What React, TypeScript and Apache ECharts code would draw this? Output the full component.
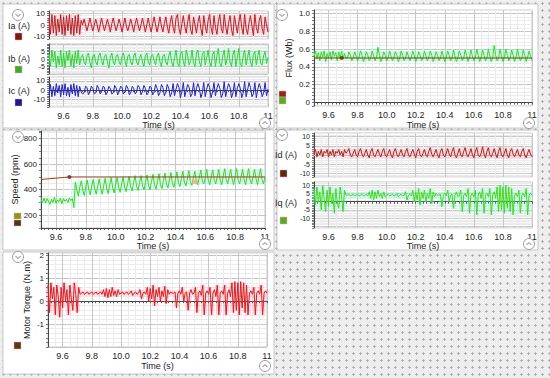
import React, { useEffect, useRef } from 'react';
import * as echarts from 'echarts';

// time base of the sampled traces (s)
const T0 = 9.5;
const DT = 0.01;

const timeLabels = [9.6, 9.8, 10.0, 10.2, 10.4, 10.6, 10.8, 11];

const ia = [
  6, -8, 9, -7, 8, -9, 5, -6, 9, -8, 7, -9, 8, -5, 9, -8, 6, -9, 8, -7, 9, -8, 4,
  0, 5, 0, -5, 0, 6, 0, -5, 0, 5, 0, -6, 0, 6, 0, -5, 0, 5, 0, -6, 1, 6, 0, -5, 0, 5, 0, -6, 0, 6, -1, -5,
  0, 5, 0, -6, 1, 6, 0, -5, 0, 6, 0, -6, 0, 6, -1, -6, 1, 7, 0, -6, 0, 7, -1, -6, 1, 7,
  -1, -7, 2, 8, -2, -7, 6, 9, -3, -8, 1, 8, -1, -7, 3, 9, -4, -8, 7, 0, -7, 2, 8, -3, -9, 8, -1, -7,
  4, 9, -2, -8, 8, -2, -8, 3, 9, -3, -7, 9, -1, -8, 2, 8, -4, -9, 8, 0, -7, 3, 9, -2, -8, 9, -3, -8,
  2, 8, -1, -9, 9, -2, -7, 4, 8, -3, -8, 7, 0, -6,
];

const ib = [
  3, -5, 6, -2, 5, -6, 2, -4, 6, -5, 4, -6, 5, -1, 6, -5, 3, -6, 5, -3, 6, -4, 1,
  3, -2, -4, 2, 4, -2, -6, 2, 3, -2, -4, 2, 4, -1, -4, 2, 3, -2, -6, 1, 4, -2, -4, 2, 3, -2, -4, 2,
  4, -1, -5, 2, 3, -2, -4, 2, 4, -2, -4, 1, 3, -2, -5, 2, 4, -2, -4, 2, 3, -1, -4, 2, 4, -2, -5, 2, 3, -2,
  -4, 2, 5, -2, -5, 1, 6, -3, -5, 3, 5, -2, -5, 6, 2, -4, -1, 6, -3, -5, 4, 6, -2, -5, 3, 5, -4, 1,
  6, -2, -5, 3, 5, -5, 2, 7, -3, -5, 2, 6, -4, 0, 7, -2, -5, 3, 6, -5, 1, 7, -3, -5, 2, 6, -4, 1,
  6, -2, -5, 3, 5, -4, 2, 6, -3, -4, 2, 5, -3, 1,
];

const ic = [
  -5, 6, -7, 4, -6, 7, -3, 5, -7, 6, -5, 7, -6, 3, -7, 6, -4, 7, -6, 5, -7, 4, -2,
  -4, -3, 4, 3, -5, -2, 4, 2, -4, -3, 5, 2, -4, -2, 4, 3, -5, -2, 4, 2, -4, -3, 5, 2, -5, -2, 4, 3,
  -4, -2, 5, 2, -5, -3, 4, 2, -4, -2, 5, 3, -5, -2, 5, 2, -5, -3, 4, 3, -5, -2, 6, 2, -6, -3, 6, 3, -6, -2,
  6, 2, -7, -3, 7, -6, 1, 7, 3, -8, -2, 8, -7, 0, 6, 3, -7, -4, 8, -6, 2, 7, 2, -8, -3, 8, -7, 1,
  7, 3, -8, -2, 8, -6, 2, 7, 2, -8, -4, 9, -7, 1, 7, 3, -8, -3, 8, -7, 2, 7, 2, -8, -3, 9, -7, 0,
  8, 3, -7, -4, 8, -8, 1, 7, 2, -7, -3, 8, -6, 1,
];

const flux = [
  0.52, 0.58, 0.49, 0.56, 0.47, 0.57, 0.51, 0.58, 0.46, 0.55, 0.5, 0.57, 0.48, 0.58, 0.52, 0.56, 0.47, 0.57, 0.5, 0.58, 0.49, 0.55, 0.5,
  0.5, 0.57, 0.53, 0.47, 0.5, 0.57, 0.52, 0.47, 0.51, 0.58, 0.53, 0.46, 0.5, 0.57, 0.53, 0.47,
  0.5, 0.58, 0.52, 0.47, 0.51, 0.62, 0.53, 0.46, 0.5, 0.57, 0.53, 0.47, 0.5, 0.58, 0.52, 0.47,
  0.51, 0.57, 0.53, 0.46, 0.5, 0.58, 0.53, 0.47, 0.5, 0.57, 0.52, 0.47, 0.51, 0.58, 0.53, 0.46,
  0.5, 0.57, 0.53, 0.47, 0.5, 0.58, 0.52, 0.47, 0.51, 0.58, 0.53, 0.46, 0.5, 0.57, 0.53, 0.47,
  0.5, 0.58, 0.52, 0.46, 0.51, 0.58, 0.53, 0.47, 0.5, 0.59, 0.52, 0.46, 0.51, 0.58, 0.53, 0.47,
  0.5, 0.59, 0.53, 0.46, 0.51, 0.59, 0.52, 0.47, 0.5, 0.6, 0.53, 0.46, 0.51, 0.59, 0.53, 0.47,
  0.5, 0.6, 0.52, 0.46, 0.51, 0.64, 0.53, 0.47, 0.5, 0.6, 0.52, 0.46, 0.51, 0.6, 0.53, 0.47,
  0.5, 0.59, 0.53, 0.46, 0.51, 0.6, 0.52, 0.47, 0.5, 0.59, 0.53, 0.46, 0.51, 0.58, 0.52, 0.47,
];
const fluxRefT = [9.5, 11];
const fluxRefV = [0.5, 0.5];
const cursorT = [9.69];
const cursorFlux = [0.5];

const speed = [
  320, 300, 335, 295, 330, 310, 285, 325, 300, 340, 295, 320, 305, 335, 290, 330, 310, 325, 300, 335, 315, 330, 260,
  460, 400, 350, 420, 470, 395, 355, 425, 475, 400, 360, 430, 480, 405, 365, 430,
  485, 410, 365, 435, 490, 410, 370, 440, 495, 415, 375, 445, 495, 420, 380, 445,
  500, 420, 385, 450, 505, 425, 390, 455, 510, 430, 395, 455, 510, 430, 400, 460,
  515, 435, 400, 465, 520, 440, 405, 465, 525, 440, 410, 470, 530, 445, 415, 475,
  535, 450, 420, 480, 540, 455, 425, 485, 545, 460, 430, 485, 550, 465, 435, 490,
  545, 470, 440, 495, 555, 470, 445, 495, 560, 475, 440, 500, 555, 480, 445, 500,
  560, 475, 440, 505, 565, 480, 445, 500, 560, 485, 440, 505, 565, 480, 445, 500,
  560, 485, 440, 505, 565, 480, 445, 500, 560, 485, 440, 505, 565, 480, 445, 500,
];
const speedRefT = [9.5, 9.69, 11];
const speedRefV = [480, 500, 500];
const cursorSpeed = [500];
const markerT = [10.53];
const markerSpeed = [462];

const id = [
  1, 3, -1, 2, 0, 3, -1, 2, 1, 3, -1, 2, 0, 3, -1, 2, 1, 3, 0, 2, -1, 3, 1,
  2, 3.5, 0, -1, 1, 3, 0, -1, 2, 3.5, 0.5, -1, 1, 3, 0, -1.5,
  2, 3.5, 0, -1, 1, 3, 0.5, -1, 2, 3.5, 0, -1, 1, 3, 0, -1.5,
  2, 3.5, 0.5, -1, 1, 3, 0, -1, 2, 3.5, 0, -1, 1, 3, 0.5, -1.5,
  2, 3.5, 0, -1, 1, 3, 0, -1, 2, 4, 0.5, -1, 1, 3, 0, -1.5,
  2, 3.5, 0, -1, 1, 3.5, 0.5, -1, 2, 4, 0, -1.5, 1, 3.5, 0, -1,
  2, 4, 0.5, -1, 1, 3.5, 0, -1.5, 2, 4, 0, -1, 1, 4.5, 0.5, -1.5,
  2, 4, 0, -1, 1, 3.5, 0.5, -1.5, 2, 4, 0, -1, 1, 3.5, 0, -1.5,
  2, 3.5, 0.5, -1, 1, 3, 0, -1, 2, 3.5, 0, -1.5, 1, 3, 0.5, -1,
];

const iq = [
  8, -2, 9, 0, 6, -5, 10, 2, -6, 7, -3, 9, -1, 5, -7, 8, 0, -4, 9, 3, -6, 7, 4,
  4, 4.5, 3.5, 4, 4.5, 3.5, 4, 4.5, 3.5, 4, 4.5, 3.5, 4, 4.5, 3.5,
  6, 2, 7, 1, 6, 2, 7, 3, 5, 2, 6, 3,
  4, 4.5, 3.5, 4, 4.5, 3.5, 4, 5, 3, 4, 4.5, 3.5, 4, 6, 1, 4, 4.5, 3.5,
  7, 0, 6, 1, 8, -2, 6, 2, 7, 0, 5, 2, 8, -1, 6, 3, 5, 4,
  4, 4.5, -3, 4, 5, 3.5, 7, 0, 4, 4.5, -4, 4, 6, 3, 4,
  7, -6, 4, 5, 3, 8, -7, 4, 5, 3,
  7, -8, 4, 6, 2, 8, -7, 4, 5, 3,
  8, -8, 4, 6, 2, 9, -6, 10, -5, 9,
  -7, 10, -4, 9, -6, 8, -8, 4, 5, 3,
  7, -7, 4, 5, 3, 8, -8, 4, 5, 4,
];

const torque = [
  0.7, -0.5, 0.8, 0.1, 0.6, -0.6, 0.7, 0.2, -0.7, 0.6, -0.3, 0.8, 0, 0.5, -0.6, 0.7, 0.1, -0.4, 0.8, 0.3, -0.5, 0.6, 0.3,
  0.35, 0.4, 0.3, 0.35, 0.4, 0.3, 0.35, 0.4, 0.3, 0.35, 0.4, 0.3, 0.35, 0.4, 0.3,
  0.5, 0.2, 0.55, 0.15, 0.5, 0.2, 0.6, 0.25, 0.45, 0.2, 0.5, 0.3,
  0.35, 0.4, 0.3, 0.35, 0.4, 0.3, 0.35, 0.45, 0.25, 0.35, 0.4, 0.3, 0.35, 0.5, 0.1, 0.35, 0.4, 0.3,
  0.6, 0.0, 0.55, 0.1, 0.7, -0.2, 0.5, 0.2, 0.6, 0, 0.45, 0.2, 0.65, -0.1, 0.5, 0.3, 0.4, 0.35,
  0.35, 0.4, -0.3, 0.35, 0.45, 0.3, 0.6, 0, 0.35, 0.4, -0.4, 0.35, 0.5, 0.3, 0.35,
  0.6, -0.5, 0.35, 0.45, 0.25, 0.7, -0.6, 0.35, 0.45, 0.3,
  0.6, -0.6, 0.35, 0.5, 0.2, 0.7, -0.6, 0.35, 0.45, 0.3,
  0.7, -0.6, 0.35, 0.5, 0.2, 0.8, -0.5, 0.85, -0.4, 0.8,
  -0.6, 0.85, -0.3, 0.8, -0.5, 0.7, -0.6, 0.35, 0.45, 0.3,
  0.6, -0.6, 0.35, 0.45, 0.3, 0.7, -0.6, 0.35, 0.45, 0.35,
];

const MAJOR = '#c6c6c6';
const MINOR = '#ebebeb';
const FONT = 'Arial, "Liberation Sans", sans-serif';

const pts = (arr: number[]) => arr.map((v, i) => [Math.round((T0 + i * DT) * 100) / 100, v]);
const pairs = (t: number[], v: number[]) => t.map((x, i) => [x, v[i]]);

function xAx(gridIndex: number, bottom: boolean, nameGap = 13) {
  return {
    type: 'value', gridIndex, min: 9.5, max: 11, interval: 0.05,
    axisLine: { show: true, lineStyle: { color: bottom ? '#444' : '#bdbdbd' } },
    axisTick: { show: bottom, length: 2, lineStyle: { color: '#555' } },
    minorTick: { show: bottom, splitNumber: 2, length: 2, lineStyle: { color: '#555' } },
    axisLabel: {
      show: bottom, margin: 4, fontSize: 9, color: '#222', fontFamily: FONT,
      formatter: (v: number) => {
        const hit = timeLabels.find((l) => Math.abs(l - v) < 1e-6);
        if (hit === undefined) return '';
        return hit === 11 ? '11' : hit.toFixed(1);
      },
    },
    splitLine: { show: true, lineStyle: { color: [MINOR, MINOR, MAJOR, MINOR], width: 1 } },
    name: bottom ? 'Time (s)' : '', nameLocation: 'middle', nameGap,
    nameTextStyle: { fontSize: 9, color: '#222', fontFamily: FONT },
  };
}

function yAx(gridIndex: number, min: number, max: number, interval: number, period: number, majorAt: number,
  labels: number[], fmt: (v: number) => string, fontSize = 8, name = '', nameGap = 20) {
  const colors = Array.from({ length: period }, (_, i) => (i === majorAt ? MAJOR : MINOR));
  return {
    type: 'value', gridIndex, min, max, interval,
    axisLine: { show: true, lineStyle: { color: '#444' } },
    axisTick: { show: true, length: 2, lineStyle: { color: '#777' } },
    axisLabel: {
      margin: 4, fontSize, lineHeight: fontSize, color: '#222', fontFamily: FONT,
      formatter: (v: number) => {
        const hit = labels.find((l) => Math.abs(l - v) < 1e-6);
        return hit === undefined ? '' : fmt(hit);
      },
    },
    splitLine: { show: true, lineStyle: { color: colors, width: 1 } },
    name, nameLocation: 'middle', nameRotate: 90, nameGap,
    nameTextStyle: { fontSize: 9, color: '#222', fontFamily: FONT },
  };
}

const grids = [
  { left: 49, top: 11, width: 219, height: 28 },   // Ia
  { left: 49, top: 44, width: 219, height: 30 },   // Ib
  { left: 49, top: 77, width: 219, height: 30 },   // Ic
  { left: 314, top: 10, width: 218, height: 96 },  // Flux
  { left: 41, top: 131, width: 224, height: 97 },  // Speed
  { left: 314, top: 133, width: 218, height: 44 }, // Id
  { left: 314, top: 182, width: 218, height: 46 }, // Iq
  { left: 48, top: 253, width: 219, height: 94 },  // Torque
].map((g) => ({ ...g, show: true, borderColor: '#c4c4c4', borderWidth: 1, backgroundColor: 'transparent' }));

function trace(idx: number, data: number[][], color: string, width = 1, z = 3) {
  return {
    type: 'line', xAxisIndex: idx, yAxisIndex: idx, data, showSymbol: false, symbol: 'none',
    lineStyle: { color, width }, z, silent: true,
  };
}

function glow(idx: number, data: number[][], color: string) {
  return trace(idx, data, color, 5, 2);
}

const panels = [
  [3, 4, 271, 124], [3, 130, 271, 120], [3, 252, 271, 122],
  [277, 4, 261, 124], [277, 130, 261, 120],
];
const downIcons = [[18, 15], [282, 15], [18, 137], [282, 135], [18, 257]];
const upIcons = [[265, 123], [529, 123], [265, 244], [529, 244], [265, 366]];

function buildGraphic() {
  const els: any[] = [];
  panels.forEach(([x, y, w, h]) => els.push({
    type: 'rect', shape: { x, y, width: w, height: h }, z: -10,
    style: { fill: '#ffffff', stroke: '#c8c8c8', lineWidth: 1 },
  }));
  downIcons.forEach(([cx, cy]) => {
    els.push({ type: 'circle', shape: { cx, cy, r: 5.5 }, z: 50, style: { fill: '#fff', stroke: '#9a9a9a', lineWidth: 1 } });
    els.push({ type: 'polyline', shape: { points: [[cx - 2.5, cy - 1], [cx, cy + 1.5], [cx + 2.5, cy - 1]] }, z: 51, style: { stroke: '#777', lineWidth: 1, fill: 'none' } });
  });
  upIcons.forEach(([cx, cy]) => {
    els.push({ type: 'circle', shape: { cx, cy, r: 5.5 }, z: 50, style: { fill: '#fff', stroke: '#9a9a9a', lineWidth: 1 } });
    els.push({ type: 'polyline', shape: { points: [[cx - 2.5, cy + 1], [cx, cy - 1.5], [cx + 2.5, cy + 1]] }, z: 51, style: { stroke: '#777', lineWidth: 1, fill: 'none' } });
  });
  const labels: [string, number, number][] = [
    ['Ia (A)', 19, 26], ['Ib (A)', 19, 59], ['Ic (A)', 19, 91], ['Id (A)', 286, 155], ['Iq (A)', 286, 203],
  ];
  labels.forEach(([t, x, y]) => els.push({
    type: 'text', x, y, z: 50,
    style: { text: t, fill: '#222', font: `9px ${FONT}`, align: 'center', verticalAlign: 'middle' },
  }));
  const squares: [number, number, number, number, string][] = [
    [15, 33, 7, 7, '#7a1a0a'], [15, 66, 7, 7, '#3faa2a'], [15, 99, 7, 7, '#1a1a8a'],
    [279, 91, 7, 6, '#8a2a10'], [279, 97, 7, 7, '#55b020'],
    [14, 213, 7, 6, '#8a9a10'], [14, 220, 7, 6, '#4a3a10'],
    [280, 170, 7, 7, '#5a2a10'], [280, 217, 7, 7, '#5aaa20'],
    [14, 342, 7, 7, '#5a3a10'],
  ];
  squares.forEach(([x, y, w, h, c]) => els.push({
    type: 'rect', shape: { x, y, width: w, height: h }, z: 50,
    style: { fill: c, stroke: '#f0a0c8', lineWidth: 0.5 },
  }));
  return els;
}

const intFmt = (v: number) => String(v);
const dec1 = (v: number) => (v === 0 ? '0' : v.toFixed(1));

const option: any = {
  animation: false,
  textStyle: { fontFamily: FONT },
  grid: grids,
  xAxis: [
    xAx(0, false), xAx(1, false), xAx(2, true, 13), xAx(3, true, 14), xAx(4, true, 12),
    xAx(5, false), xAx(6, true, 12), xAx(7, true, 14),
  ],
  yAxis: [
    yAx(0, -12, 12, 2, 5, 1, [-10, 0, 10], intFmt, 8),
    yAx(1, -10, 10, 1, 5, 0, [-5, 0, 5], intFmt, 7),
    yAx(2, -18, 14, 2, 5, 4, [-10, 0, 10], intFmt, 8),
    yAx(3, -0.04, 1.04, 0.04, 5, 1, [0, 0.2, 0.4, 0.6, 0.8, 1.0], dec1, 8, 'Flux (Wb)', 21),
    yAx(4, 100, 860, 50, 4, 2, [200, 400, 600, 800], intFmt, 8, 'Speed (rpm)', 22),
    yAx(5, -12, 12, 1, 5, 2, [-10, -5, 0, 5, 10], intFmt, 7),
    yAx(6, -16, 12, 1, 5, 1, [-10, -5, 0, 5, 10], intFmt, 7),
    yAx(7, -2, 2.1, 0.2, 5, 0, [-1, 0, 1, 2], intFmt, 8, 'Motor Torque (N.m)', 17),
  ],
  graphic: buildGraphic(),
  series: [
    glow(0, pts(ia), 'rgba(255,90,140,0.18)'),
    trace(0, pts(ia), '#b82222'),
    glow(1, pts(ib), 'rgba(110,255,230,0.25)'),
    trace(1, pts(ib), '#3ccf28'),
    trace(2, pts(ic), '#2222c0'),
    glow(3, pts(flux), 'rgba(90,255,200,0.28)'),
    trace(3, pts(flux), '#48d02a'),
    trace(3, pairs(fluxRefT, fluxRefV), '#7a3a10', 1, 4),
    { type: 'scatter', xAxisIndex: 3, yAxisIndex: 3, data: pairs(cursorT, cursorFlux), symbolSize: 4, itemStyle: { color: '#6a2a08' }, z: 5, silent: true },
    glow(4, pts(speed), 'rgba(100,255,230,0.3)'),
    trace(4, pts(speed), '#58c818'),
    trace(4, pairs(speedRefT, speedRefV), '#a0401a', 1, 4),
    { type: 'scatter', xAxisIndex: 4, yAxisIndex: 4, data: pairs(cursorT, cursorSpeed), symbolSize: 4, itemStyle: { color: '#6a2a08' }, z: 5, silent: true },
    { type: 'scatter', xAxisIndex: 4, yAxisIndex: 4, data: pairs(markerT, markerSpeed), symbol: 'rect', symbolSize: [6, 4], itemStyle: { color: '#f4a878' }, z: 5, silent: true },
    glow(5, pts(id), 'rgba(255,100,140,0.2)'),
    trace(5, pts(id), '#a82818'),
    glow(6, pts(iq), 'rgba(100,255,230,0.3)'),
    trace(6, pts(iq), '#48d818'),
    glow(7, pts(torque), 'rgba(255,90,130,0.22)'),
    trace(7, pts(torque), '#d82020'),
  ],
};

export default function App() {
  const ref = useRef<HTMLDivElement>(null);
  useEffect(() => {
    document.body.style.margin = '0';
    const chart = echarts.init(ref.current as HTMLDivElement, null, { renderer: 'svg', width: 550, height: 378 });
    chart.setOption(option);
    return () => chart.dispose();
  }, []);
  return (
    <div
      ref={ref}
      style={{
        position: 'fixed', left: 0, top: 0, width: 550, height: 378,
        backgroundColor: '#eeeeee',
        backgroundImage: 'radial-gradient(circle, #a4a4a4 0.9px, transparent 1.3px)',
        backgroundSize: '7px 7px',
      }}
    />
  );
}
